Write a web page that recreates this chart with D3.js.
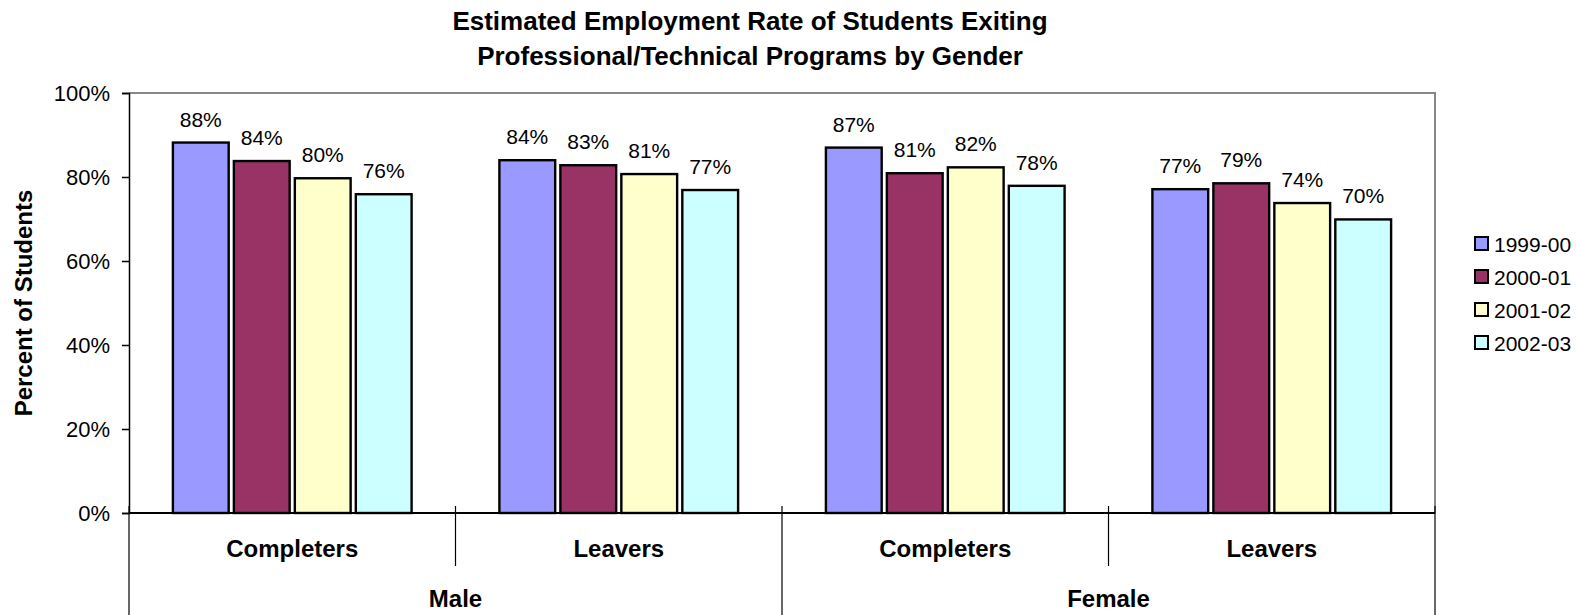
<!DOCTYPE html>
<html>
<head>
<meta charset="utf-8">
<script src="https://cdn.jsdelivr.net/npm/d3@7/dist/d3.min.js"></script>
<style>
  html, body { margin: 0; padding: 0; background: #fff; }
  svg { display: block; font-family: "Liberation Sans", Arial, sans-serif; }
</style>
</head>
<body>
<svg id="chart" width="1576" height="615"></svg>
<script>
// ---- data ----
const titleLines = ["Estimated Employment Rate of Students Exiting", "Professional/Technical Programs by Gender"];
const groups = ["Male", "Female"];
const subCategories = ["Completers", "Leavers"];
const series = ["1999-00", "2000-01", "2001-02", "2002-03"];
const seriesColors = ["#9999FF", "#993366", "#FFFFCC", "#CCFFFF"];
const yTicks = [0, 0.2, 0.4, 0.6, 0.8, 1.0];
const yTitle = "Percent of Students";
// values per category (Male Completers, Male Leavers, Female Completers, Female Leavers), one array per series
const v1999 = [0.882, 0.840, 0.870, 0.771];
const v2000 = [0.838, 0.828, 0.809, 0.785];
const v2001 = [0.797, 0.807, 0.823, 0.738];
const v2002 = [0.759, 0.769, 0.779, 0.699];
const seriesValues = [v1999, v2000, v2001, v2002];

// ---- layout ----
const svg = d3.select("#chart");
const pLeft = 129, pRight = 1435, pTop = 93, pBottom = 513;
const cats = [];
groups.forEach(g => subCategories.forEach(s => cats.push(g + "|" + s)));

const x0 = d3.scaleBand().domain(cats).range([pLeft, pRight]).paddingInner(0).paddingOuter(0);
const x1 = d3.scaleBand().domain(series).range([0, x0.bandwidth()]).paddingInner(0.085).paddingOuter(0.72);
const y = d3.scaleLinear().domain([0, 1]).range([pBottom, pTop]);
const color = d3.scaleOrdinal().domain(series).range(seriesColors);

// title
svg.append("g").selectAll("text").data(titleLines).join("text")
  .attr("x", 750).attr("y", (d, i) => 29.5 + i * 35)
  .attr("text-anchor", "middle")
  .attr("font-size", 26).attr("font-weight", "bold")
  .text(d => d);

// plot border (gray top/right)
svg.append("path")
  .attr("d", `M${pLeft},${pTop}H${pRight}V${pBottom}`)
  .attr("fill", "none").attr("stroke", "#888").attr("stroke-width", 2);

// y axis
const yAxis = svg.append("g").attr("transform", `translate(${pLeft},0)`)
  .call(d3.axisLeft(y).tickValues(yTicks).tickFormat(d3.format(".0%")).tickSize(7).tickPadding(12));
yAxis.select(".domain").attr("stroke", "#000").attr("stroke-width", 1.5);
yAxis.selectAll(".tick line").attr("stroke", "#000").attr("stroke-width", 1.5);
yAxis.selectAll(".tick text").attr("font-size", 22).attr("fill", "#000")
  .attr("font-family", "'Liberation Sans', Arial, sans-serif");

// y title
svg.append("text")
  .attr("transform", `translate(32,${(pTop + pBottom) / 2}) rotate(-90)`)
  .attr("text-anchor", "middle")
  .attr("font-size", 24).attr("font-weight", "bold")
  .text(yTitle);

// bars
const catG = svg.append("g").selectAll("g").data(cats).join("g")
  .attr("transform", d => `translate(${x0(d)},0)`);
catG.selectAll("rect").data((d, ci) => series.map((s, si) => ({ s, v: seriesValues[si][ci] })))
  .join("rect")
  .attr("x", d => x1(d.s)).attr("width", x1.bandwidth())
  .attr("y", d => y(d.v)).attr("height", d => y(0) - y(d.v))
  .attr("fill", d => color(d.s)).attr("stroke", "#000").attr("stroke-width", 2.4);
catG.selectAll("text").data((d, ci) => series.map((s, si) => ({ s, v: seriesValues[si][ci] })))
  .join("text")
  .attr("x", d => x1(d.s) + x1.bandwidth() / 2)
  .attr("y", d => y(d.v) - 16)
  .attr("text-anchor", "middle")
  .attr("font-size", 21)
  .text(d => d3.format(".0%")(d.v));

// x axis baseline
svg.append("line").attr("x1", pLeft).attr("x2", pRight).attr("y1", pBottom).attr("y2", pBottom)
  .attr("stroke", "#000").attr("stroke-width", 2);

// category dividers
const divG = svg.append("g").attr("stroke", "#000").attr("stroke-width", 1.2);
cats.forEach((c, i) => {
  if (i === 0) return;
  const xx = x0(c);
  const isGroupEdge = i % subCategories.length === 0;
  divG.append("line").attr("x1", xx).attr("x2", xx).attr("y1", pBottom - 7).attr("y2", isGroupEdge ? 615 : 566);
});
[pLeft, pRight].forEach(xx => {
  divG.append("line").attr("x1", xx).attr("x2", xx).attr("y1", pBottom - 7).attr("y2", 615);
});

// category labels
svg.append("g").selectAll("text").data(cats).join("text")
  .attr("x", d => x0(d) + x0.bandwidth() / 2).attr("y", 557)
  .attr("text-anchor", "middle").attr("font-size", 24).attr("font-weight", "bold")
  .text(d => d.split("|")[1]);

// group labels
svg.append("g").selectAll("text").data(groups).join("text")
  .attr("x", g => x0(g + "|" + subCategories[0]) + x0.bandwidth() * subCategories.length / 2)
  .attr("y", 607)
  .attr("text-anchor", "middle").attr("font-size", 24).attr("font-weight", "bold")
  .text(g => g);

// legend
const legend = svg.append("g").selectAll("g").data(series).join("g")
  .attr("transform", (d, i) => `translate(1475,${244 + i * 33})`);
legend.append("rect").attr("x", 0).attr("y", -7).attr("width", 13).attr("height", 13)
  .attr("fill", d => color(d)).attr("stroke", "#000").attr("stroke-width", 2);
legend.append("text").attr("x", 19).attr("y", 7.5).attr("font-size", 21).text(d => d);
</script>
</body>
</html>
